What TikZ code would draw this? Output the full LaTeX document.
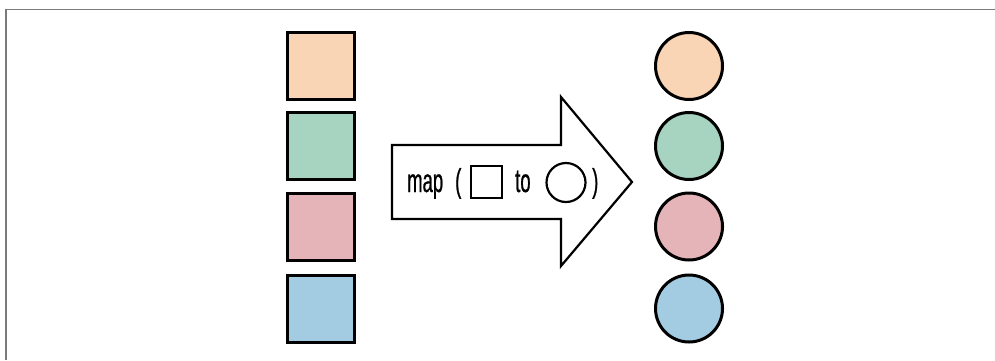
\documentclass[tikz,border=0pt]{standalone}
\usepackage{fontspec}
\setmainfont[FakeStretch=0.56,FakeBold=0.7]{Liberation Sans}
\definecolor{peach}{HTML}{F9D5B5}
\definecolor{mint}{HTML}{A7D4C0}
\definecolor{rose}{HTML}{E5B4B8}
\definecolor{sky}{HTML}{A3CBE1}
\definecolor{framegray}{HTML}{7A7A7A}
\begin{document}
\begin{tikzpicture}[x=1pt,y=-1pt,
  sq/.style={draw=black,line width=3pt,minimum size=67pt,inner sep=0pt,rectangle},
  circ/.style={draw=black,line width=3pt,minimum size=67pt,inner sep=0pt,circle},
  lbl/.style={anchor=base west,inner sep=0pt,font=\fontsize{33}{40}\selectfont},
  smallsq/.style={draw=black,line width=2.2pt,minimum width=31pt,minimum height=32pt,inner sep=0pt,rectangle},
  smallcirc/.style={draw=black,line width=2.2pt,minimum size=39pt,inner sep=0pt,circle}]
\useasboundingbox (0,0) rectangle (995,360);
\draw[framegray,line width=1.6pt] (6,360) -- (6,9.5) -- (995,9.5);
% squares
\node[sq,fill=peach] (s1) at (321,66) {};
\node[sq,fill=mint]  (s2) at (321,146) {};
\node[sq,fill=rose]  (s3) at (321,226.5) {};
\node[sq,fill=sky]   (s4) at (321,308.5) {};
% circles
\node[circ,fill=peach] (c1) at (689,66) {};
\node[circ,fill=mint]  (c2) at (689,146) {};
\node[circ,fill=rose]  (c3) at (689,226.5) {};
\node[circ,fill=sky]   (c4) at (689,308.5) {};
% arrow
\draw[line width=2.2pt,fill=white,line join=miter] (392,145) -- (561,145) -- (561,97) -- (632,182) -- (561,266) -- (561,219) -- (392,219) -- cycle;
% label
\node[lbl] (map) at (407,192) {map};
\node[lbl] (open) at (455,192) {(};
\node[smallsq] (box) at (486.5,182) {};
\node[lbl] (to) at (515,192) {to};
\node[smallcirc] (ring) at (566,182.5) {};
\node[lbl] (close) at (592,192) {)};
\end{tikzpicture}
\end{document}
